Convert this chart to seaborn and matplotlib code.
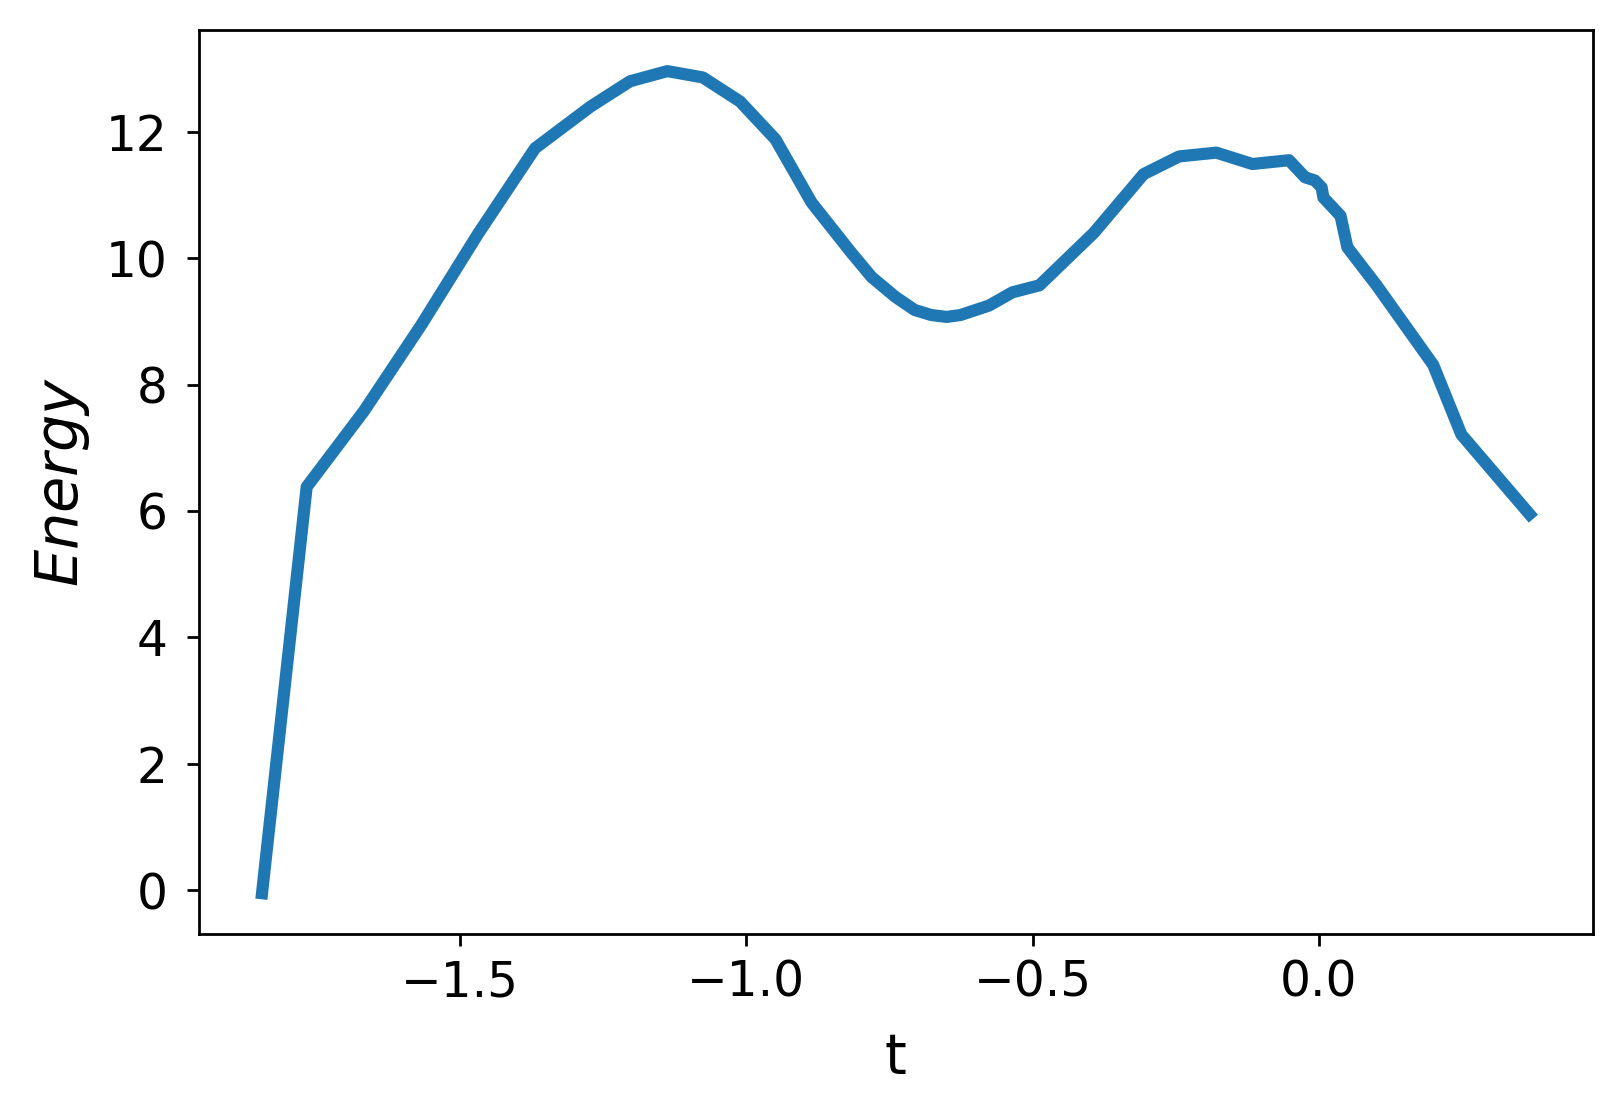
import matplotlib
matplotlib.use("Agg")
import matplotlib.pyplot as plt
import seaborn as sns
import pandas as pd

t_values = [-1.846, -1.768, -1.668, -1.568, -1.469, -1.369, -1.272, -1.203,
            -1.138, -1.076, -1.011, -0.949, -0.886, -0.816, -0.781, -0.740,
            -0.706, -0.677, -0.650, -0.626, -0.576, -0.535, -0.488, -0.393,
            -0.306, -0.244, -0.179, -0.116, -0.052, -0.024, -0.007, 0.005,
            0.008, 0.038, 0.050, 0.101, 0.200, 0.249, 0.368]
energy_values = [-0.05, 6.38, 7.58, 8.94, 10.38, 11.74, 12.40, 12.80,
                 12.96, 12.86, 12.48, 11.88, 10.88, 10.08, 9.70, 9.39,
                 9.18, 9.10, 9.07, 9.10, 9.25, 9.46, 9.57, 10.40,
                 11.33, 11.61, 11.67, 11.49, 11.55, 11.28, 11.23, 11.12,
                 10.96, 10.67, 10.17, 9.57, 8.31, 7.21, 5.95]

x_ticks = [-1.5, -1.0, -0.5, 0.0]
y_ticks = [0, 2, 4, 6, 8, 10, 12]

df = pd.DataFrame({"t": t_values, "Energy": energy_values})

fig = plt.figure(figsize=(1623 / 250, 1116 / 250), dpi=250)
ax = fig.add_axes([0.1224, 0.1628, 0.859, 0.8103])
sns.lineplot(data=df, x="t", y="Energy", sort=False, ax=ax,
             color="#1f77b4", linewidth=3.5)
ax.set_xticks(x_ticks)
ax.set_yticks(y_ticks)
ax.tick_params(labelsize=14)
ax.tick_params(axis="y", pad=5.5)
ax.set_xlabel("t", fontsize=16, labelpad=7)
ax.set_ylabel("$Energy$", fontsize=17, labelpad=4)
fig.savefig("out.png", dpi=250)
